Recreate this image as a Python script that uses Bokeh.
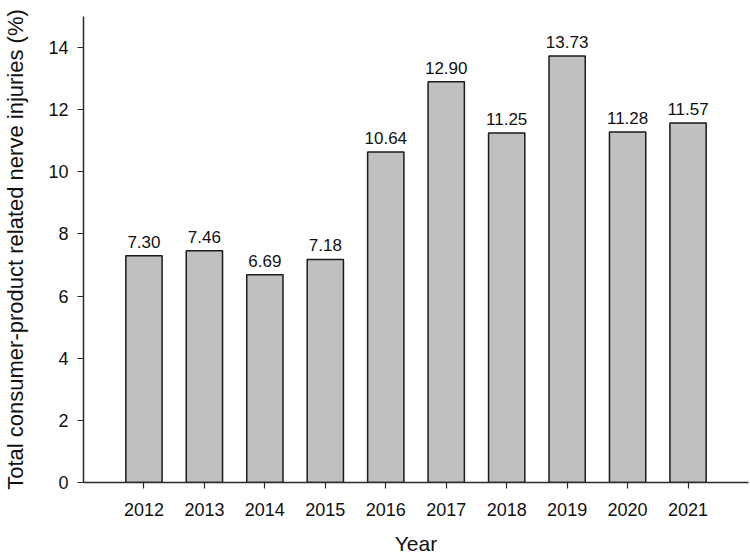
from bokeh.plotting import figure
from bokeh.models import ColumnDataSource, Range1d, FixedTicker
from bokeh.core.properties import value
from bokeh.embed import file_html
from bokeh.resources import INLINE

years = [2012, 2013, 2014, 2015, 2016, 2017, 2018, 2019, 2020, 2021]
percent = [7.30, 7.46, 6.69, 7.18, 10.64, 12.90, 11.25, 13.73, 11.28, 11.57]
labels = [f"{v:.2f}" for v in percent]
y_ticks = [0, 2, 4, 6, 8, 10, 12, 14]

FONT = "Liberation Sans"

src = ColumnDataSource(dict(x=years, top=percent, label=labels))

p = figure(width=750, height=559, output_backend="svg", toolbar_location=None,
           x_range=Range1d(2011, 2022), y_range=Range1d(0, 15),
           min_border_left=82, min_border_top=16, min_border_bottom=77, min_border_right=2)

p.vbar(x="x", top="top", width=0.6, source=src, fill_color="#c0c0c0",
       line_color="#1a1a1a", line_width=1.5)
p.text(x="x", y="top", text="label", source=src, text_align="center",
       text_baseline="bottom", y_offset=-8, text_font=value(FONT),
       text_font_size="17px", text_color="#111111")

p.xgrid.visible = False
p.ygrid.visible = False
p.outline_line_color = None
p.background_fill_color = "white"
p.border_fill_color = "white"

for ax in (p.xaxis[0], p.yaxis[0]):
    ax.axis_line_color = "#2a2a2a"
    ax.axis_line_width = 1.5
    ax.major_tick_line_color = "#2a2a2a"
    ax.major_tick_line_width = 1.2
    ax.major_tick_in = 0
    ax.major_tick_out = 6
    ax.minor_tick_line_color = None
    ax.major_label_text_font = FONT
    ax.major_label_text_font_size = "18px"
    ax.major_label_text_color = "#111111"
    ax.axis_label_text_font = FONT
    ax.axis_label_text_font_style = "normal"
    ax.axis_label_text_color = "#111111"

p.xaxis.axis_label_text_font_size = "21px"
p.yaxis.axis_label_text_font_size = "22px"
p.xaxis.ticker = FixedTicker(ticks=years)
p.yaxis.ticker = FixedTicker(ticks=y_ticks)
p.xaxis.major_label_standoff = 14
p.yaxis.major_label_standoff = 9
p.xaxis.axis_label_standoff = 13
p.yaxis.axis_label_standoff = 17
p.xaxis.axis_label = "Year"
p.yaxis.axis_label = "Total consumer-product related nerve injuries (%)"

open("out.html", "w").write(file_html(p, INLINE))
